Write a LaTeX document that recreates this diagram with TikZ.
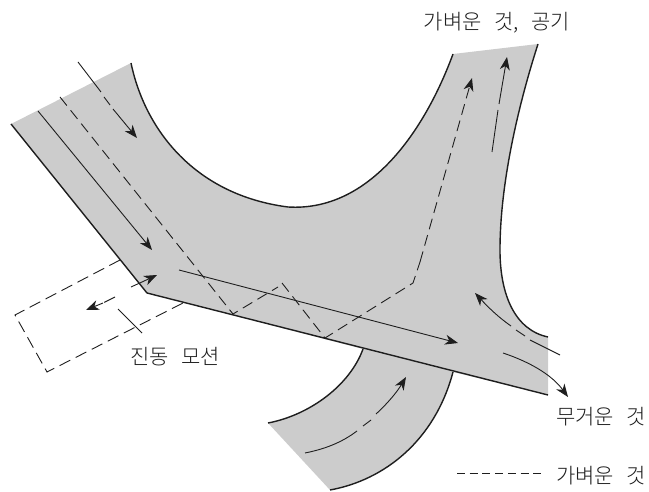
\documentclass[tikz,border=0pt]{standalone}
\usepackage{fontspec}
\newfontfamily\krfont[WordSpace=2.7]{Noto Sans CJK KR Light}
\usetikzlibrary{arrows.meta}
\definecolor{flowGray}{RGB}{204,204,204}
\definecolor{inkDark}{RGB}{30,30,30}

\begin{document}
\begin{tikzpicture}[
        x=1pt,
        y=-1pt,
        wall/.style={line width=1.4pt, draw=inkDark},
        flow/.style={line width=0.9pt, draw=inkDark},
        tip/.style={-{Stealth[length=13pt, width=10pt, inset=4pt]}},
        lightflow/.style={flow, dash pattern=on 11pt off 6pt},
        vibration/.style={line width=0.9pt, draw=inkDark, dash pattern=on 12pt off 6pt},
        label/.style={font=\krfont\fontsize{21}{24}\selectfont, text=inkDark, inner sep=0pt}
    ]
        \useasboundingbox (0,0) rectangle (649,492);

        % grey body
        \fill[flowGray] (11,124) -- (131,63)
            .. controls (145,130) and (195,195) .. (288,207)
            .. controls (370,212) and (425,130) .. (453,54)
            -- (538,44)
            .. controls (520,100) and (500,180) .. (500,250)
            .. controls (500,295) and (515,330) .. (548,337)
            -- (548,395) -- (453,372)
            .. controls (435,440) and (385,480) .. (330,490)
            -- (268,423)
            .. controls (310,415) and (350,385) .. (363,349)
            -- (147,293) -- cycle;

        % channel walls
        \draw[wall] (131,63)
            .. controls (145,130) and (195,195) .. (288,207)
            .. controls (370,212) and (425,130) .. (453,54);
        \draw[wall] (538,44)
            .. controls (520,100) and (500,180) .. (500,250)
            .. controls (500,295) and (515,330) .. (548,337);
        \draw[wall] (11,124) -- (147,293) -- (548,395);
        \draw[wall] (268,423) .. controls (310,415) and (350,385) .. (363,349);
        \draw[wall] (453,372) .. controls (435,440) and (385,480) .. (330,490);

        % heavy stream
        \draw[flow] (78,62) -- (101,92);
        \draw[flow] (104,97) -- (110,105);
        \draw[flow, tip] (113,109) -- (137,138);
        \draw[flow, tip] (38,111) -- (152,250);
        \draw[flow, tip] (179,270) -- (458,343);

        % light stream
        \draw[lightflow] (60,97) -- (233,314) -- (278,287);
        \draw[lightflow] (282,283) -- (325,338) -- (413,283) -- (420,262);
        \draw[lightflow, tip] (420,262) -- (472,78);
        \draw[flow] (492,152) -- (498,110);
        \draw[flow, tip] (499,104) -- (507,57);

        % side branch
        \draw[flow] (560,355) -- (530,340);
        \draw[flow] (525,336) -- (516,330);
        \draw[flow, tip] (511,326) .. controls (498,317) and (488,307) .. (475,293);
        \draw[flow, tip] (503,353) .. controls (530,362) and (552,375) .. (568,397);
        \draw[flow] (305,453) .. controls (330,448) and (345,440) .. (357,431);
        \draw[flow] (363,426) -- (371,420);
        \draw[flow, tip] (376,414) .. controls (388,403) and (397,392) .. (406,377);

        % vibration box
        \draw[vibration] (120,260) -- (15,315) -- (47,372) -- (183,303);
        \draw[vibration] (131,287) -- (142,282);
        \draw[flow, tip] (142,282) -- (157,275);
        \draw[vibration] (115,297) -- (103,303);
        \draw[flow, tip] (103,303) -- (86,310);
        \draw[flow] (118,309) -- (142,333);

        % legend line
        \draw[flow, dash pattern=on 8pt off 4.7pt] (457,473) -- (543,473);

        \node[label] (lightair) at (497,23) {가벼운 것, 공기};
        \node[label] (motion) at (175,357) {진동 모션};
        \node[label] (heavy) at (601,417) {무거운 것};
        \node[label] (light) at (601,476) {가벼운 것};
    \end{tikzpicture}
\end{document}
